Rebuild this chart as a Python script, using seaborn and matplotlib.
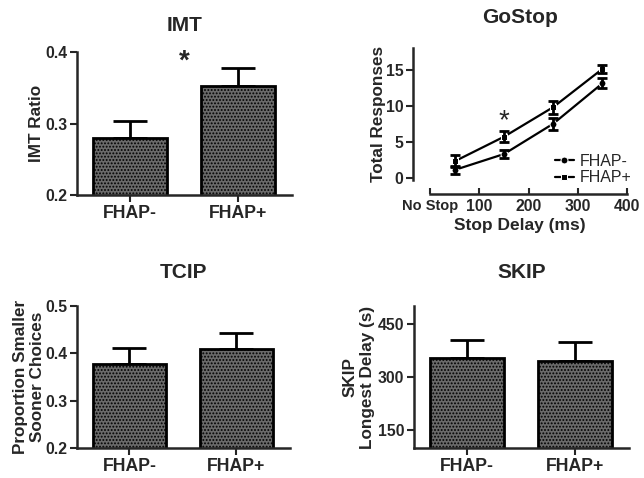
import matplotlib
matplotlib.use("Agg")
import matplotlib.pyplot as plt
import numpy as np
import pandas as pd
import seaborn as sns

# データ
groups = ["FHAP-", "FHAP+"]

imt_mean = [0.280, 0.352]
imt_sem = [0.023, 0.026]

tcip_mean = [0.377, 0.409]
tcip_sem = [0.034, 0.034]

skip_mean = [353, 346]
skip_sem = [51, 53]

stop_delay = [50, 150, 250, 350]
gostop_minus = [1.1, 3.3, 7.5, 13.1]
gostop_minus_sem = [0.5, 0.6, 0.8, 0.7]
gostop_plus = [2.3, 5.7, 9.8, 15.1]
gostop_plus_sem = [0.8, 0.8, 0.9, 0.6]

sns.set_style("ticks")
plt.rcParams["font.family"] = ["Liberation Sans", "DejaVu Sans"]
plt.rcParams["font.weight"] = "bold"
plt.rcParams["hatch.linewidth"] = 0.9

fig = plt.figure(figsize=(6.44, 4.78), dpi=100)
W, H = 644, 478


def add_ax(left, right, top, bottom):
    return fig.add_axes([left / W, 1 - bottom / H, (right - left) / W, (bottom - top) / H])


def bar_panel(ax, means, sems, ylim, yticks, ylabel, title, fmt, pad, labelpad):
    df = pd.DataFrame({"group": groups, "value": means})
    sns.barplot(data=df, x="group", y="value", ax=ax, color="#6a6a6a",
                width=0.68, edgecolor="black", linewidth=2, saturation=1)
    for p in ax.patches:
        p.set_hatch(".....")
    ax.errorbar(range(2), means, yerr=[[0, 0], sems], fmt="none", ecolor="black",
                elinewidth=2, capsize=12, capthick=2, zorder=0)
    ax.set_ylim(*ylim)
    ax.set_xlim(-0.49, 1.5)
    ax.set_yticks(yticks)
    ax.set_yticklabels([fmt.format(t) for t in yticks])
    ax.set_xlabel("")
    ax.set_ylabel(ylabel, fontsize=12.3, fontweight="bold", labelpad=labelpad)
    ax.set_title(title, fontsize=15, fontweight="bold", pad=pad)
    sns.despine(ax=ax)
    for s in ["left", "bottom"]:
        ax.spines[s].set_linewidth(1.8)
    ax.tick_params(width=1.5, length=5, pad=2)
    ax.tick_params(axis="x", labelsize=12.7)
    ax.tick_params(axis="y", labelsize=11.3)


# IMT
ax1 = add_ax(77, 292, 52, 195)
bar_panel(ax1, imt_mean, imt_sem, (0.2, 0.4), [0.2, 0.3, 0.4], "IMT Ratio", "IMT", "{:.1f}", 15, 1)
ax1.text(0.5, 0.387, "*", ha="center", va="center", fontsize=20, fontweight="bold", clip_on=False)

# TCIP
ax3 = add_ax(77, 290, 306, 448)
bar_panel(ax3, tcip_mean, tcip_sem, (0.2, 0.5), [0.2, 0.3, 0.4, 0.5],
          "Proportion Smaller\nSooner Choices", "TCIP", "{:.1f}", 20, 0)

# SKIP
ax4 = add_ax(414, 629, 306, 448)
bar_panel(ax4, skip_mean, skip_sem, (100, 500), [150, 300, 450],
          "SKIP\nLongest Delay (s)", "SKIP", "{:.0f}", 20, 2)

# GoStop
ax2 = add_ax(413, 627, 48, 180)
gs = pd.DataFrame({
    "delay": stop_delay * 2,
    "resp": gostop_minus + gostop_plus,
    "group": ["FHAP-"] * 4 + ["FHAP+"] * 4,
})
sns.lineplot(data=gs, x="delay", y="resp", hue="group", style="group",
             markers={"FHAP-": "o", "FHAP+": "s"}, dashes=False,
             palette={"FHAP-": "black", "FHAP+": "black"}, markersize=5,
             linewidth=1.6, ax=ax2)
ax2.errorbar(stop_delay, gostop_minus, yerr=gostop_minus_sem, fmt="none", ecolor="black",
             elinewidth=2, capsize=3.5, capthick=2)
ax2.errorbar(stop_delay, gostop_plus, yerr=gostop_plus_sem, fmt="none", ecolor="black",
             elinewidth=2, capsize=3.5, capthick=2)
ax2.set_xlim(-35, 400)
ax2.set_ylim(-0.3, 18)
ax2.set_yticks([0, 5, 10, 15])
ax2.set_xticks([0, 100, 200, 300, 400])
ax2.set_xticklabels(["No Stop", "100", "200", "300", "400"])
sns.despine(ax=ax2)
ax2.spines["bottom"].set_position(("outward", 10))
ax2.spines["bottom"].set_bounds(0, 400)
for s in ["left", "bottom"]:
    ax2.spines[s].set_linewidth(1.8)
ax2.tick_params(axis="y", width=1.5, length=5, labelsize=11.3, pad=2)
ax2.tick_params(axis="x", width=1.5, length=4, direction="in", labelsize=11.3)
for lab in ax2.get_xticklabels():
    if lab.get_text() == "No Stop":
        lab.set_fontsize(10.5)
ax2.set_xlabel("Stop Delay (ms)", fontsize=12.5, fontweight="bold", labelpad=3)
ax2.set_ylabel("Total Responses", fontsize=12.3, fontweight="bold", labelpad=0)
ax2.set_title("GoStop", fontsize=15, fontweight="bold", pad=18)
ax2.text(150, 7.8, "*", ha="center", va="center", fontsize=20, fontweight="normal")
leg = ax2.legend(loc="lower right", bbox_to_anchor=(1.06, -0.1), frameon=False,
                 handlelength=1.2, handletextpad=0.4, labelspacing=0.1, borderaxespad=0.1,
                 prop={"size": 11.5, "weight": "normal"})

fig.savefig("out.png", dpi=100)
